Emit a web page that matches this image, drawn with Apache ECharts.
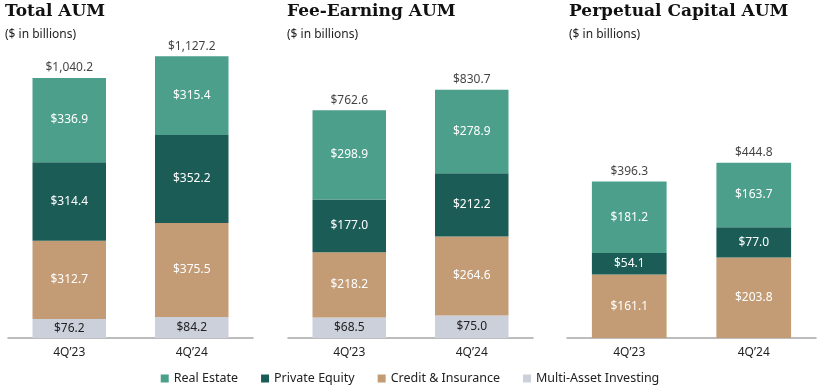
<!DOCTYPE html>
<html>
<head>
<meta charset="utf-8">
<script src="https://cdn.jsdelivr.net/npm/echarts@6/dist/echarts.min.js"></script>
<style>
html,body{margin:0;padding:0;background:#fff;}
#c{width:820px;height:387px;}
</style>
</head>
<body>
<div id="c"></div>
<script>
const categories = ["4Q\u201923", "4Q\u201924"];
const seriesNames = ["Real Estate", "Private Equity", "Credit & Insurance", "Multi-Asset Investing"];
const panelTitles = ["Total AUM", "Fee-Earning AUM", "Perpetual Capital AUM"];
const panelSubtitle = "($ in billions)";

// Total AUM
const totalMAI = [76.2, 84.2];
const totalCredit = [312.7, 375.5];
const totalPE = [314.4, 352.2];
const totalRE = [336.9, 315.4];
const totalSum = [1040.2, 1127.2];
// Fee-Earning AUM
const feeMAI = [68.5, 75.0];
const feeCredit = [218.2, 264.6];
const feePE = [177.0, 212.2];
const feeRE = [298.9, 278.9];
const feeSum = [762.6, 830.7];
// Perpetual Capital AUM
const perpMAI = [null, null];
const perpCredit = [161.1, 203.8];
const perpPE = [54.1, 77.0];
const perpRE = [181.2, 163.7];
const perpSum = [396.3, 444.8];

const colors = {
  "Real Estate": "#4b9f8b",
  "Private Equity": "#1b5d56",
  "Credit & Insurance": "#c39b74",
  "Multi-Asset Investing": "#cbd0da"
};

const panels = [
  {MAI: totalMAI, Credit: totalCredit, PE: totalPE, RE: totalRE, Sum: totalSum, max: 1152},
  {MAI: feeMAI, Credit: feeCredit, PE: feePE, RE: feeRE, Sum: feeSum, max: 964},
  {MAI: perpMAI, Credit: perpCredit, PE: perpPE, RE: perpRE, Sum: perpSum, max: 730}
];
const grids = [
  {left: 8, width: 245},
  {left: 288, width: 245},
  {left: 567, width: 249}
];
const titleLeft = [5, 287, 569];

const fmt = v => "$" + v.toLocaleString("en-US", {minimumFractionDigits: 1, maximumFractionDigits: 1});

const option = {
  animation: false,
  backgroundColor: "#fff",
  title: panelTitles.map((t, i) => ({
    text: t,
    subtext: panelSubtitle,
    left: titleLeft[i],
    top: 3,
    padding: 0,
    itemGap: 9,
    textStyle: {fontFamily: "DejaVu Serif", fontWeight: "bold", fontSize: 17, color: "#111"},
    subtextStyle: {fontFamily: "Noto Sans", fontSize: 12, color: "#222"}
  })),
  legend: {
    data: seriesNames,
    bottom: -3,
    left: "center",
    icon: "rect",
    itemWidth: 8,
    itemHeight: 8,
    itemGap: 23,
    textStyle: {fontFamily: "Noto Sans", fontSize: 12.5, color: "#222"}
  },
  grid: grids.map(g => ({left: g.left, width: g.width, top: 50, bottom: 49})),
  xAxis: grids.map((g, i) => ({
    type: "category",
    gridIndex: i,
    data: categories,
    axisLine: {lineStyle: {color: "#a6a6a6", width: 1.5}},
    axisTick: {show: false},
    axisLabel: {fontFamily: "Noto Sans", fontSize: 12, color: "#222", margin: 9}
  })),
  yAxis: panels.map((p, i) => ({
    type: "value",
    gridIndex: i,
    min: 0,
    max: p.max,
    show: false,
    splitLine: {show: false}
  })),
  series: []
};

panels.forEach((p, i) => {
  const order = [
    ["Multi-Asset Investing", p.MAI, "#222"],
    ["Credit & Insurance", p.Credit, "#fff"],
    ["Private Equity", p.PE, "#fff"],
    ["Real Estate", p.RE, "#fff"]
  ];
  order.forEach(([name, data, lc]) => {
    option.series.push({
      type: "bar",
      name: name,
      xAxisIndex: i,
      yAxisIndex: i,
      stack: "s" + i,
      barWidth: "60%",
      data: data,
      itemStyle: {color: colors[name]},
      label: {
        show: true,
        position: "inside",
        color: lc,
        fontFamily: "Noto Sans",
        fontSize: 12,
        formatter: d => d.value == null ? "" : fmt(d.value)
      }
    });
  });
  option.series.push({
    type: "scatter",
    name: "total" + i,
    xAxisIndex: i,
    yAxisIndex: i,
    data: p.Sum,
    symbolSize: 0,
    silent: true,
    label: {
      show: true,
      position: "top",
      distance: 4,
      color: "#111",
      fontFamily: "Noto Sans",
      fontSize: 12,
      formatter: d => fmt(d.value)
    }
  });
});

const chart = echarts.init(document.getElementById("c"), null, {renderer: "canvas"});
chart.setOption(option);
</script>
</body>
</html>
